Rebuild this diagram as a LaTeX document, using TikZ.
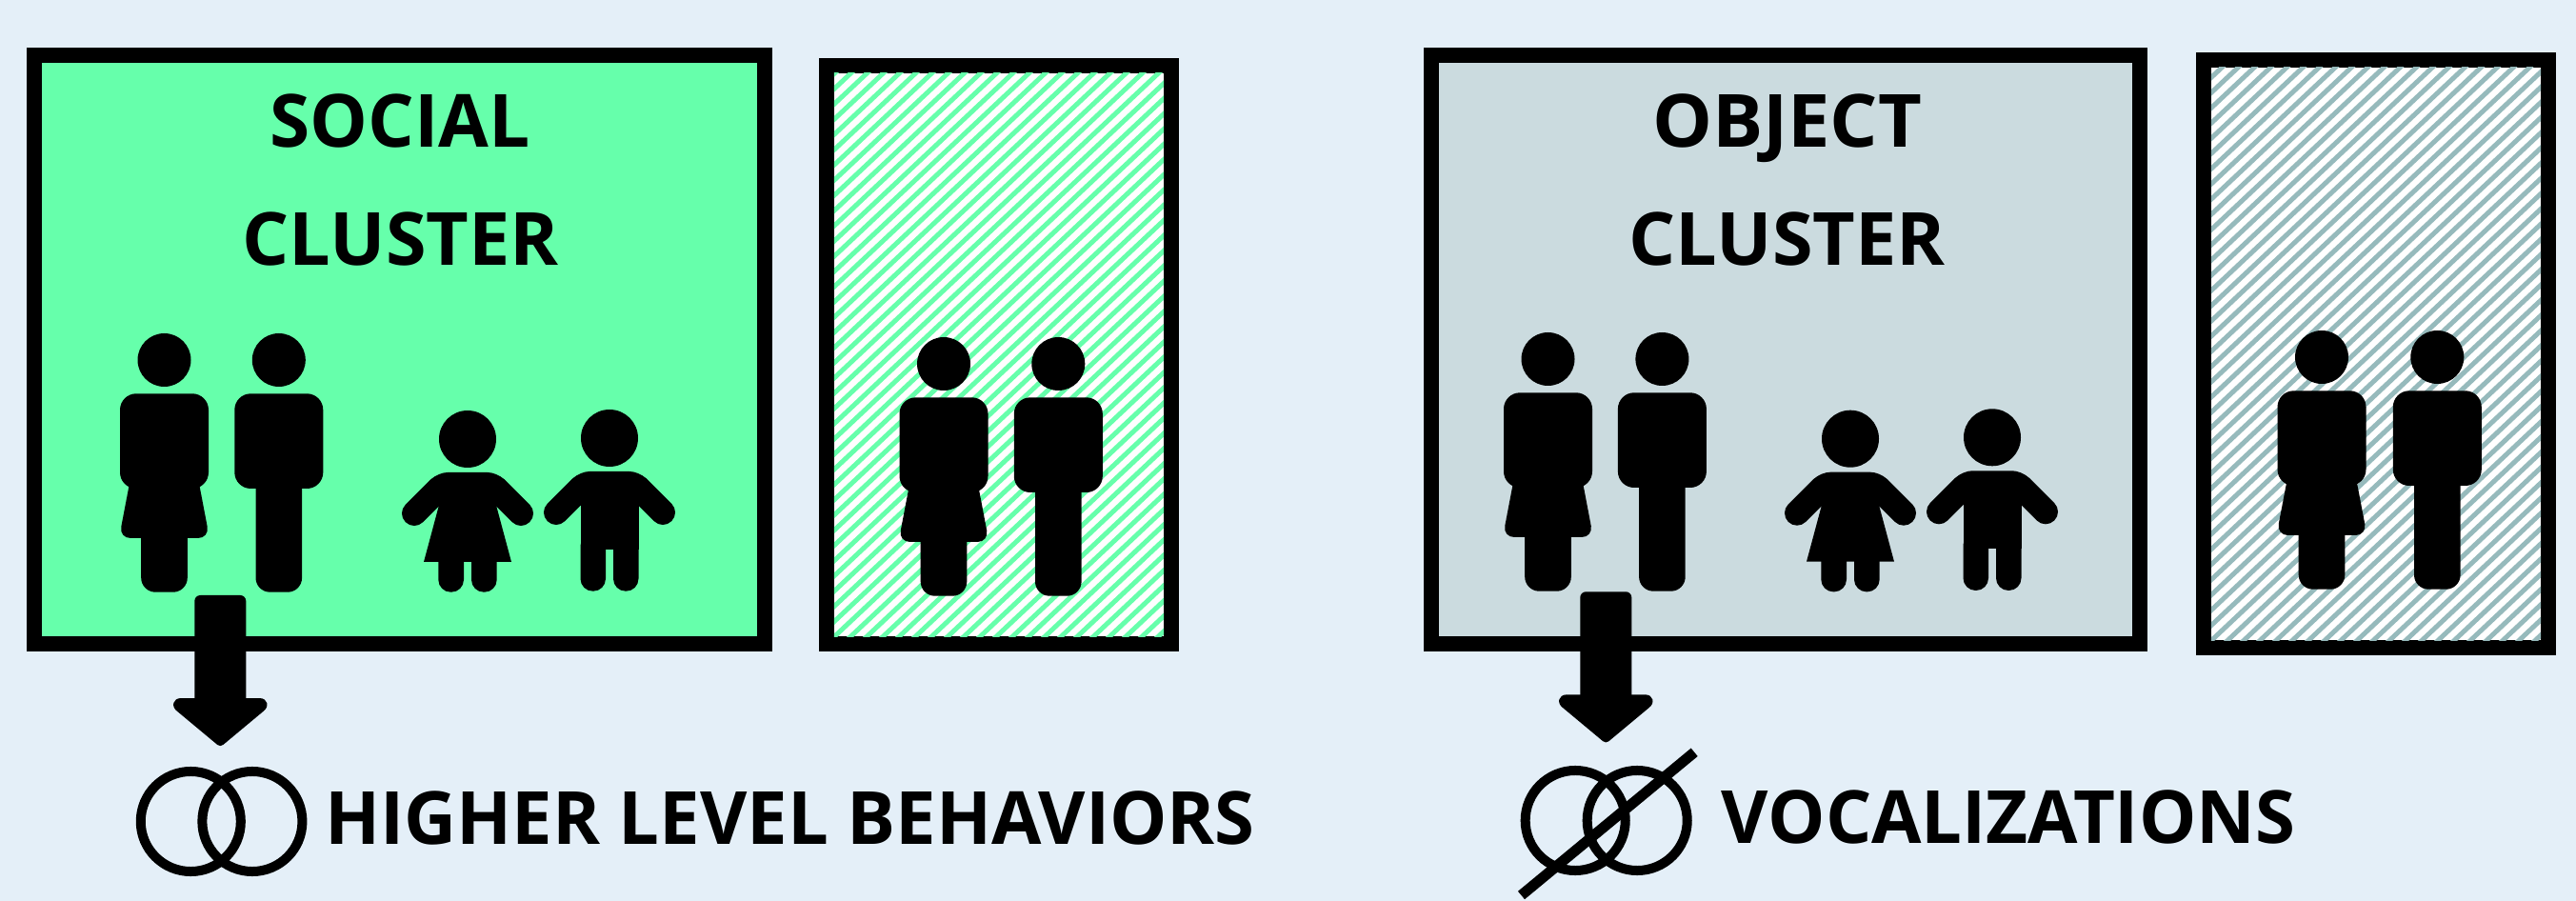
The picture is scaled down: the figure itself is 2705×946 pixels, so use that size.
\documentclass[tikz,border=0pt]{standalone}
\usepackage{fontspec}
\usepackage{graphicx}
\setmainfont{Open Sans}
\usepackage{xcolor}
\usetikzlibrary{calc}
\definecolor{pagetint}{RGB}{228,239,248}
\definecolor{socialgreen}{RGB}{102,255,171}
\definecolor{objectgrey}{RGB}{203,219,223}
\definecolor{objectstripe}{RGB}{150,186,188}
% keeps the height of a label and fixes its width
\newcommand{\lblwidth}[2]{\resizebox{#1}{\height}{#2}}
\newcommand{\hatchlines}[2]{
  \begin{scope}
    \clip ($(#1.south west)+(8,-8)$) rectangle ($(#1.north east)+(-8,8)$);
    \foreach \k in {-40,...,24}
      \draw[#2, line width=0.05cm] ($(#1.south west)+(\k*17,0)$) -- ++(700,-658);
  \end{scope}}

\begin{document}
\begin{tikzpicture}[x=0.01cm, y=-0.01cm,
  cluster/.style={rectangle, draw=black, line width=0.16cm, outer sep=0pt, inner sep=0pt},
  label/.style={inner sep=0pt, anchor=base, font=\bfseries\fontsize{21.9pt}{24pt}\selectfont},
  ring/.style={circle, draw=black, line width=0.1cm, minimum size=1.05cm, inner sep=0pt},
  slash/.style={draw=black, line width=0.11cm},
  adultf/.pic={
    \fill (0,0) circle[radius=28];
    \fill[rounded corners=0.17cm] (-46.5,35.3) rectangle (46.5,135);
    \fill[rounded corners=0.12cm] (-34.7,120) -- (-47.5,187) -- (47.5,187) -- (34.7,120) -- cycle;
    \fill[rounded corners=0.15cm] (-24.3,170) rectangle (24.3,243.7);
  },
  adultm/.pic={
    \fill (0,0) circle[radius=28];
    \fill[rounded corners=0.17cm] (-46.5,35.3) rectangle (46.5,135);
    \fill[rounded corners=0.15cm] (-24.3,100) rectangle (24.3,243.7);
  },
  childtop/.pic={
    \fill (0,0) circle[radius=30];
    \fill[rounded corners=0.1cm] (-31,35) -- (31,35) -- (46,50) -- (30.5,74) -- (-30.5,74) -- (-46,50) -- cycle;
    \draw[line width=0.26cm, line cap=round] (-56,78) -- (-30,52) (56,78) -- (30,52);
  },
  childf/.pic={
    \pic {childtop};
    \fill (-30.7,55) -- (30.7,55) -- (30.7,72) -- (46,129) -- (-46,129) -- (-30.7,72) -- cycle;
    \fill[rounded corners=0.13cm] (-30.7,110) rectangle (-4,160.7);
    \fill[rounded corners=0.13cm] (4,110) rectangle (30.7,160.7);
  },
  childm/.pic={
    \pic {childtop};
    \fill (-30.5,60) rectangle (30.5,117);
    \fill[rounded corners=0.13cm] (-30.5,100) rectangle (-4,160.7);
    \fill[rounded corners=0.13cm] (4,100) rectangle (30.5,160.7);
  },
  blockarrow/.pic={
    \fill[rounded corners=0.06cm] (-27,0) rectangle (27,125);
    \fill (0,108) -- (41,108) .. controls (50,108) and (52,117) .. (45,122) -- (3,157)
      .. controls (1,158.5) and (-1,158.5) .. (-3,157) -- (-45,122)
      .. controls (-52,117) and (-50,108) .. (-41,108) -- cycle;
  }]

  \useasboundingbox (0,0) rectangle (2705,946);
  \fill[pagetint] (0,0) rectangle (2705,946);

  % clusters
  \node[cluster, fill=socialgreen, minimum width=7.67cm, minimum height=6.175cm] (socialbox) at (419.6,366.75) {};
  \node[cluster, fill=white, minimum width=3.62cm, minimum height=6.07cm] (socialhatch) at (1049,372.5) {};
  \node[cluster, fill=objectgrey, minimum width=7.437cm, minimum height=6.18cm] (objectbox) at (1875.2,367) {};
  \node[cluster, fill=white, minimum width=3.62cm, minimum height=6.17cm] (objecthatch) at (2495,371.5) {};
  \hatchlines{socialhatch}{socialgreen}
  \hatchlines{objecthatch}{objectstripe}

  % titles
  \node[label] (socialtitle) at (420.2,155) {\lblwidth{2.73cm}{SOCIAL}};
  \node[label] (socialsub) at (420.8,279) {\lblwidth{3.32cm}{CLUSTER}};
  \node[label] (objecttitle) at (1876.7,155) {\lblwidth{2.83cm}{OBJECT}};
  \node[label] (objectsub) at (1876.7,279) {\lblwidth{3.32cm}{CLUSTER}};

  % families
  \pic at (172.5,378) {adultf};
  \pic at (292.8,378) {adultm};
  \pic at (491,461) {childf};
  \pic at (640,460) {childm};
  \pic at (991,382) {adultf};
  \pic at (1111.3,382) {adultm};
  \pic at (1625.5,377) {adultf};
  \pic at (1745.4,377) {adultm};
  \pic at (1943,460.7) {childf};
  \pic at (2092,459.3) {childm};
  \pic at (2438,375) {adultf};
  \pic at (2559.3,375) {adultm};

  % arrows
  \coordinate (socialtail) at (231.3,625);
  \coordinate (objecttail) at (1686.3,621.3);
  \pic at (socialtail) {blockarrow};
  \pic at (objecttail) {blockarrow};

  % overlap signs
  \node[ring] (socialleft) at (200.3,862.5) {};
  \node[ring] (socialright) at (264.9,862.5) {};
  \node[ring] (objectleft) at (1654.2,861.5) {};
  \node[ring] (objectright) at (1719.2,861.5) {};
  \coordinate (slashlow) at (1597.5,940);
  \coordinate (slashhigh) at (1779.2,789.8);
  \path[slash] (slashlow) -- (slashhigh);

  \node[label] (behaviors) at (829.5,886.7) {\lblwidth{9.76cm}{HIGHER LEVEL BEHAVIORS}};
  \node[label] (vocal) at (2109,885.7) {\lblwidth{6.02cm}{VOCALIZATIONS}};
\end{tikzpicture}
\end{document}
